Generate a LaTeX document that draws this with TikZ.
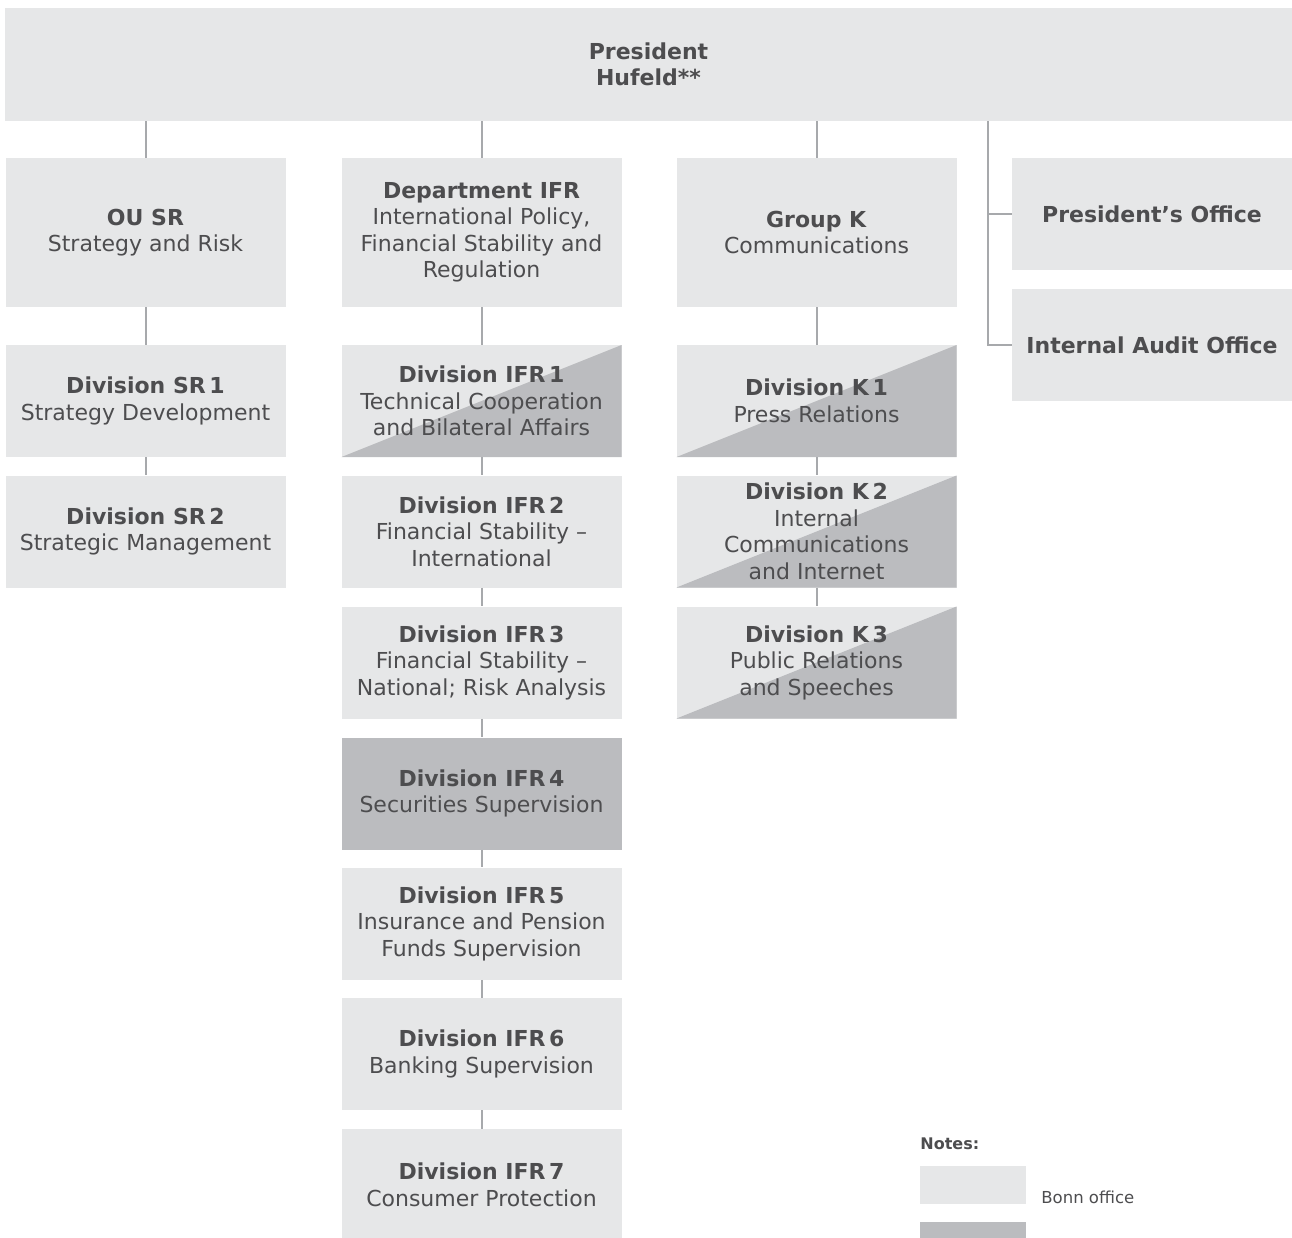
\documentclass[tikz,border=0pt]{standalone}
\usepackage{fontspec}
\setmainfont{DejaVu Sans}
\definecolor{boxlight}{HTML}{E6E7E8}
\definecolor{boxdark}{HTML}{BBBCBF}
\definecolor{linegray}{HTML}{A7A9AC}
\definecolor{textgray}{HTML}{4D4D4F}
\begin{document}
\begin{tikzpicture}[x=0.5pt,y=-0.5pt,
  unit/.style={shape=rectangle,fill=boxlight,text=textgray,align=center,inner sep=0pt,minimum width=140pt,minimum height=56pt,font=\fontsize{11}{13.25}\selectfont},
  head/.style={unit,minimum height=74.5pt},
  bonnfra/.style={path picture={\fill[boxdark] (path picture bounding box.south west) -- (path picture bounding box.north east) -- (path picture bounding box.south east) -- cycle;}},
  frankfurt/.style={fill=boxdark},
  link/.style={draw=linegray,line width=1pt}]
\useasboundingbox (0,0) rectangle (1292,1238);

\node[unit,minimum width=643.5pt,minimum height=56.5pt,font=\bfseries\fontsize{11}{13.25}\selectfont](pres) at (648.5,64.5) {President\\Hufeld**};

\node[head](ousr) at (145.5,232.5) {\textbf{OU SR}\\Strategy and Risk};
\node[unit](sr1) at (145.5,401) {\textbf{Division SR\,1}\\Strategy Development};
\node[unit](sr2) at (145.5,531.5) {\textbf{Division SR\,2}\\Strategic Management};

\node[head](ifr) at (481.5,232.5) {\textbf{Department IFR}\\International Policy,\\Financial Stability and\\Regulation};
\node[unit,bonnfra](ifr1) at (481.5,401) {\textbf{Division IFR\,1}\\Technical Cooperation\\and Bilateral Affairs};
\node[unit](ifr2) at (481.5,531.5) {\textbf{Division IFR\,2}\\Financial Stability --\\International};
\node[unit](ifr3) at (481.5,662.5) {\textbf{Division IFR\,3}\\Financial Stability --\\National; Risk Analysis};
\node[unit,frankfurt](ifr4) at (481.5,793.5) {\textbf{Division IFR\,4}\\Securities Supervision};
\node[unit](ifr5) at (481.5,923.5) {\textbf{Division IFR\,5}\\Insurance and Pension\\Funds Supervision};
\node[unit](ifr6) at (481.5,1054) {\textbf{Division IFR\,6}\\Banking Supervision};
\node[unit](ifr7) at (481.5,1185) {\textbf{Division IFR\,7}\\Consumer Protection};

\node[head](grpk) at (816.5,232.5) {\textbf{Group K}\\Communications};
\node[unit,bonnfra](k1) at (816.5,401) {\textbf{Division K\,1}\\Press Relations};
\node[unit,bonnfra](k2) at (816.5,531.5) {\textbf{Division K\,2}\\Internal\\Communications\\and Internet};
\node[unit,bonnfra](k3) at (816.5,662.5) {\textbf{Division K\,3}\\Public Relations\\and Speeches};

\node[unit,font=\bfseries\fontsize{11}{13.25}\selectfont](presoff) at (1152,214) {President’s Office};
\node[unit,font=\bfseries\fontsize{11}{13.25}\selectfont](audit) at (1152,345) {Internal Audit Office};

% lines from the president
\path (ousr.north |- pres.south) edge[link] (ousr.north);
\path (ifr.north |- pres.south) edge[link] (ifr.north);
\path (grpk.north |- pres.south) edge[link] (grpk.north);
\coordinate (trunk) at (988,0);
\draw[link] (pres.south -| trunk) |- (audit.west);
\draw[link] (trunk |- presoff.west) -- (presoff.west);

% lines inside the columns
\foreach \a/\b in {ousr/sr1,sr1/sr2,ifr/ifr1,ifr1/ifr2,ifr2/ifr3,ifr3/ifr4,ifr4/ifr5,ifr5/ifr6,ifr6/ifr7,grpk/k1,k1/k2,k2/k3}
  \path (\a) edge[link] (\b);

% notes
\node[anchor=base west,font=\bfseries\fontsize{8}{10}\selectfont,text=textgray,inner sep=0pt](notes) at (920,1149) {Notes:};
\node[fill=boxlight,minimum width=53pt,minimum height=19pt,inner sep=0pt,anchor=north west](keybonn) at (920,1166) {};
\node[anchor=base west,font=\fontsize{8.25}{10}\selectfont,text=textgray,inner sep=0pt](bonn) at (1041,1203) {Bonn office};
\node[fill=boxdark,minimum width=53pt,minimum height=19pt,inner sep=0pt,anchor=north west](keyfra) at (920,1222) {};
\end{tikzpicture}
\end{document}
